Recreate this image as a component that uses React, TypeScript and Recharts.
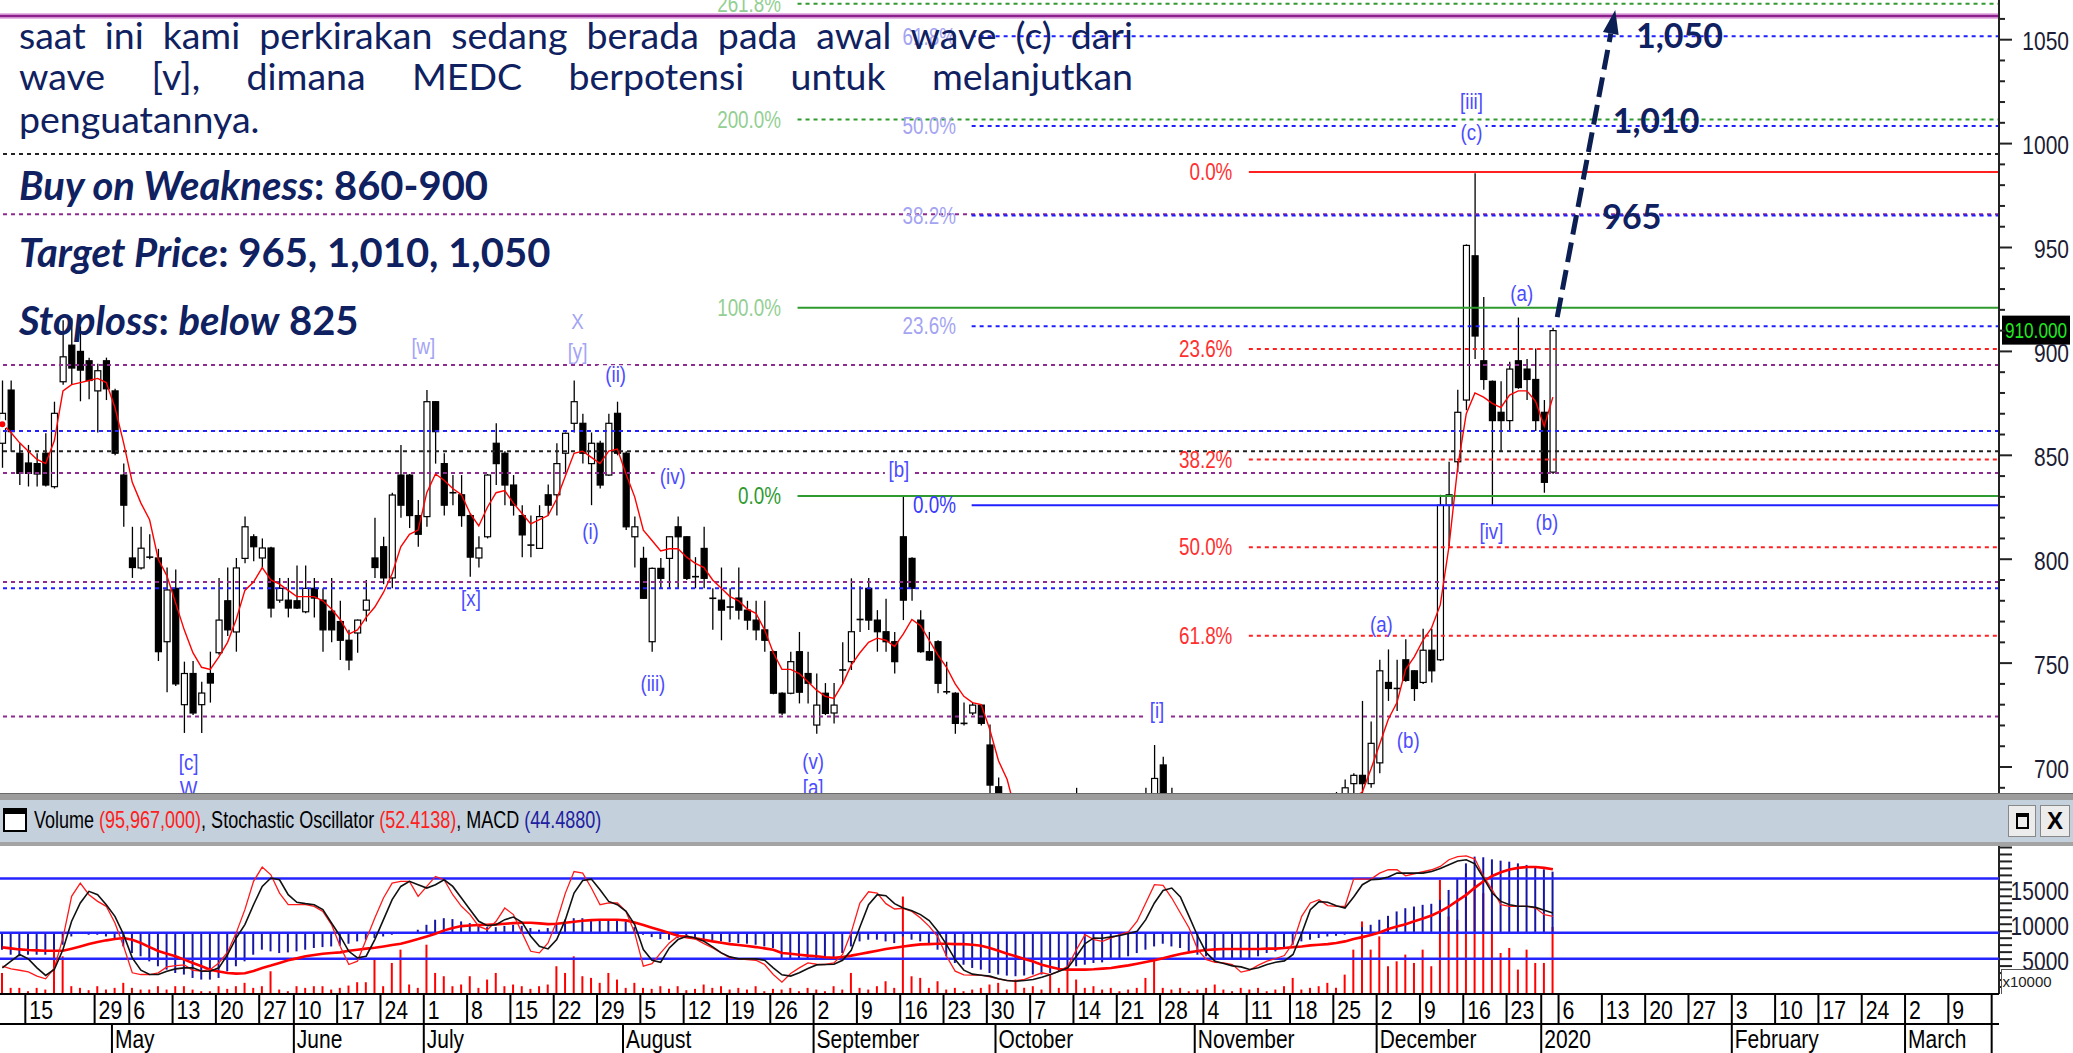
import React from "react";
import { ComposedChart, Bar, Line, XAxis, YAxis, ReferenceLine, ReferenceDot } from "recharts";

const SANS = "'Liberation Sans', Arial, sans-serif";
const NAVY = "#0f2160";

// daily bars, index 0 = first bar at the left edge (Apr 2019), index 179 = last bar
const openP = [
  855.8, 881.4, 851, 846.3, 846, 851, 834.9, 885.4, 903, 900,
  895.5, 881, 895.5, 881, 840.5, 800.6, 795.8, 801, 800.6, 760.3,
  786, 730, 745, 730, 745, 755, 780, 765, 800.4, 810.8,
  800.6, 805.4, 780.3, 780.3, 780, 774.7, 786, 780.3, 775, 770,
  761, 764.5, 775.5, 800.6, 806, 791, 840.5, 840.5, 821, 820.5,
  875.8, 846, 832, 831, 821, 800.6, 810.8, 855.8, 851, 835.7,
  821, 806.8, 805.2, 831, 831, 851, 865.4, 865.4, 846, 855.8,
  840.5, 870.2, 851, 810.8, 800.4, 760.3, 795.6, 800.4, 815.6, 810.8,
  791.6, 805.2, 781.2, 780.3, 777, 781.3, 775.5, 770.7, 766, 755.5,
  735.5, 735.5, 755.5, 745, 720.2, 735.5, 726, 746.7, 750.7, 771,
  786, 770.7, 765.1, 760.3, 810.8, 800.4, 770.7, 755.5, 760.3, 736.2,
  735.5, 721, 726, 729.8, 710.6, 690.5, 672, 660, 645, 650,
  642, 630, 640, 655, 668, 675, 660, 650, 658, 664,
  660, 668, 676, 684, 701, 686, 670, 660, 650, 655,
  648, 640, 645, 642, 646, 652, 650, 656, 662, 666,
  672, 676, 670, 675, 680, 684, 692, 696, 692, 702,
  740.7, 737.8, 751.6, 746.3, 740.7, 756.2, 751.6, 826, 846.9, 876.6,
  946, 895.5, 885.6, 870.7, 866.7, 895.5, 891.5, 886.5, 870.7, 841.9,
];
const highP = [
  886, 886, 855.8, 855, 851, 860.6, 875.8, 915, 916, 912,
  897, 894, 897, 882, 846, 815.6, 815.6, 812, 805, 796,
  795, 750.7, 751, 741, 755.5, 791, 796, 800.6, 820.5, 812,
  810, 806, 791, 791, 797, 797, 791, 786, 791, 780,
  766, 771, 790, 820, 810.8, 832, 855, 841, 828.5, 881.4,
  876, 851, 840.5, 840.5, 822, 811, 841, 865.4, 852, 840.5,
  826, 821, 826, 836, 855.8, 861, 886, 870, 861, 857,
  870, 875.8, 852, 820.5, 806, 796, 800.6, 811, 820.5, 811,
  801, 815.6, 786, 796, 786, 796, 780, 780, 780, 756,
  736, 755.5, 765, 755.5, 745, 740.4, 740.4, 760, 790.8, 787,
  791, 775.5, 781, 765, 830, 801, 775.5, 765, 761, 750.7,
  736, 731, 731, 730, 720.5, 695, 682, 668, 655, 662,
  650, 645, 660, 672, 690, 682, 668, 662, 670, 675,
  672, 680, 690, 710.6, 705, 690, 678, 668, 660, 665,
  655, 650, 655, 650, 658, 662, 660, 668, 672, 678,
  682, 686, 680, 684, 688, 694, 697, 731.8, 721.9, 751.6,
  756.6, 751.6, 761.5, 746.5, 766.5, 766.5, 831, 846.9, 881.6, 951.5,
  985.7, 926.2, 886, 885.6, 895, 916.3, 896.4, 901.4, 876.6, 911.4,
];
const lowP = [
  844, 851.7, 835.7, 835, 835, 835, 834, 884, 884, 876,
  877, 861, 876.6, 850, 815.6, 791, 795, 800, 751, 736,
  739, 716.4, 725, 716.4, 731, 754, 763, 755.5, 798, 799,
  796, 771.9, 779, 772, 776, 774, 772, 755.5, 760, 751.5,
  746.6, 755, 770, 791, 788, 786, 820, 815, 806, 815.6,
  846, 821, 826, 815.6, 791.6, 796, 810, 835.7, 826, 821,
  801, 801, 805, 821, 821, 841, 861, 846, 826, 834,
  840, 850, 814, 796, 781, 755.5, 786, 786, 786, 790,
  786, 786, 766, 761, 771, 771, 766, 761, 755.5, 735,
  725, 735, 730.6, 730.6, 716, 725, 721, 740, 746.7, 765,
  765.9, 755.5, 755.5, 745, 770.7, 780, 755, 751, 735.5, 735,
  716, 720, 725, 720, 680, 660, 655, 640, 630, 640,
  625, 620, 635, 648, 660, 655, 645, 640, 650, 655,
  652, 660, 668, 680, 680, 665, 655, 645, 640, 645,
  635, 630, 638, 632, 640, 645, 642, 650, 655, 660,
  665, 668, 662, 668, 672, 676, 686, 686, 690, 697,
  731.8, 726.9, 741, 731.8, 740, 740.7, 751, 806.2, 841.9, 871.7,
  896.4, 881.6, 826, 851.8, 861.7, 882, 876.6, 861.7, 832, 841,
];
const closeP = [
  870.2, 861.4, 841.3, 841.3, 841, 835.7, 870.2, 897.4, 892, 891,
  886, 890.7, 882, 851, 826, 796, 805.3, 801, 755.5, 785.2,
  740, 745, 726, 735.6, 740.4, 770.7, 766, 795.8, 815.6, 806,
  805.4, 776.5, 786, 776.5, 776.5, 786, 781.3, 766, 766, 761,
  751.5, 770.7, 780.3, 796, 791, 830.9, 826, 821, 812, 875.8,
  861.4, 826, 832, 821, 801, 805.4, 840.5, 846, 835.7, 826,
  811.7, 806.8, 820.5, 826, 846, 860.6, 875.8, 851, 855.8, 835.7,
  865.4, 851, 815.6, 815.6, 781.2, 795.6, 790.8, 810.8, 810.8, 790.8,
  791.6, 790.8, 781.2, 775.5, 777, 775.5, 770.7, 766, 761, 735.5,
  726, 750.7, 736, 740.3, 729.8, 725.8, 729.8, 746.7, 765.1, 771,
  770.7, 765.1, 760.3, 750.7, 780.3, 786, 755.5, 751.5, 740.3, 736.2,
  721, 721, 729.8, 721, 691.3, 670, 660, 645, 650, 642,
  630, 640, 655, 668, 675, 660, 650, 658, 664, 660,
  668, 676, 684, 694.5, 686, 670, 660, 650, 655, 648,
  640, 645, 642, 646, 652, 650, 656, 662, 666, 672,
  676, 670, 675, 680, 684, 690, 696, 692, 711.4, 746.3,
  737.8, 737.8, 741.7, 737.8, 756.2, 746.3, 826, 831, 870.7, 951,
  907.4, 886.5, 866.7, 866.7, 891.5, 882.6, 886.5, 866.7, 837, 910,
];
const maP = [
  865, 861, 856, 852, 848, 846, 857, 881, 884, 885,
  886, 887, 885, 873, 856, 837, 827, 819, 800, 792,
  779, 766, 755, 748, 747, 753, 760, 771, 785, 789,
  796, 790, 788, 785, 782, 782, 782, 780, 776, 771,
  764, 766, 772, 777, 784, 793, 806, 812, 814, 832,
  841, 838, 834, 831, 822, 816, 825, 832, 833, 827,
  822, 817, 819, 821, 829, 840, 851, 852, 849, 846,
  852, 853, 841, 830, 814, 809, 804, 805, 805, 801,
  798, 796, 790, 786, 782, 780, 776, 774, 766, 755,
  747, 747, 745, 741, 737, 734, 733, 740, 749, 755,
  760, 762, 761, 758, 764, 771, 768, 761, 754, 748,
  740, 734, 731, 730, 718, 703, 694, 678, 663, 653,
  645, 641, 643, 647, 654, 660, 662, 662, 661, 658,
  660, 665, 670, 677, 682, 682, 679, 672, 664, 657,
  651, 648, 646, 644, 645, 647, 649, 653, 657, 661,
  666, 669, 672, 675, 677, 680, 685, 688, 699, 711,
  723, 731, 747, 753, 761, 767, 778, 806, 844, 870,
  880, 878, 875, 873, 879, 881, 881, 876, 864, 878,
];
// volume in units of 10,000 shares
const volume = [
  3000, 880, 880, 400, 880, 640, 6360, 5400, 1120, 880,
  550, 1120, 640, 880, 1600, 880, 640, 640, 1120, 640,
  1120, 1120, 640, 400, 400, 1120, 740, 1120, 1600, 880,
  1120, 3260, 640, 400, 1120, 880, 1120, 1120, 640, 880,
  1210, 1690, 1690, 4930, 1120, 4450, 6360, 1360, 880, 7070,
  3020, 2550, 1120, 1360, 2550, 880, 2070, 3020, 1120, 1360,
  1120, 740, 1120, 1360, 3980, 3020, 5400, 2550, 2310, 1600,
  3020, 2070, 880, 1600, 880, 740, 1120, 740, 1120, 550,
  740, 1360, 880, 1120, 640, 880, 640, 1120, 400, 740,
  640, 880, 400, 880, 640, 400, 1120, 640, 3020, 880,
  640, 1120, 1830, 880, 13970, 2540, 2310, 880, 1830, 640,
  880, 400, 640, 880, 1360, 1600, 640, 2070, 880, 1120,
  640, 2780, 880, 3980, 2070, 880, 1120, 640, 880, 400,
  640, 880, 2310, 5170, 880, 640, 880, 400, 640, 880,
  1360, 640, 400, 880, 640, 880, 400, 640, 1120, 2310,
  640, 880, 1120, 1600, 880, 2780, 6360, 10400, 6360, 8260,
  3980, 4690, 5650, 4450, 6360, 3980, 16360, 11120, 10640, 17310,
  16360, 14450, 10640, 5880, 6600, 3500, 6360, 4450, 4450, 9597,
];
const macdHist = [
  -13.1, -17, -18.2, -17, -17, -17, -14.4, -9.3, -2.9, -0.8,
  -1.6, -1.6, -2.9, -5.4, -10.6, -15.7, -18.2, -22.1, -25.9, -28.5,
  -31.1, -32.3, -34.9, -36.2, -36.2, -34.9, -29.8, -25.9, -22.1, -17,
  -13.1, -14.4, -15.7, -15.2, -14.4, -13.1, -11.8, -11.1, -10.6, -10,
  -8.5, -6.7, -5.4, -4.1, -2.9, -1.6, -0.5, 0, 2.3, 6.1,
  10, 11.2, 10.5, 8.7, 7.4, 6.1, 4.3, 4.3, 5.3, 6.1,
  5.3, 3.6, 2.3, 3.6, 6.1, 10, 11.2, 11.2, 10.5, 10,
  10.5, 10.5, 8.7, 4.3, -1.6, -3.4, -4.9, -5.4, -4.1, -2.9,
  -3.4, -4.9, -6, -6.7, -7.4, -8, -8.5, -9.3, -10.6, -11.8,
  -19.5, -20.3, -20.3, -20.8, -20.8, -20.3, -19.5, -15.7, -10.6, -6.7,
  -5.4, -5.4, -6.7, -8, -2.9, -5.4, -6.7, -9.3, -13.1, -18.2,
  -23.4, -24.7, -27.2, -28.5, -31.1, -32.3, -33.1, -33.6, -33.1, -32.3,
  -32.3, -31.1, -29.8, -27.2, -25.9, -24.7, -23.4, -22.9, -20.8, -19.5,
  -18.2, -15.7, -13.1, -10.6, -8.5, -10.6, -11.8, -14.4, -17, -18.2,
  -19.5, -20.3, -20.8, -20.8, -19.5, -18.2, -15.7, -14.4, -11.8, -9.3,
  -6.7, -5.4, -4.1, -2.9, -2.3, -1.6, 0.2, 4.3, 6.1, 10,
  13, 16.4, 18.9, 20.2, 21.5, 22.3, 25.3, 33, 42, 53.5,
  58.7, 58.2, 56.6, 55.6, 54.8, 53.5, 52.3, 51, 48.9, 47.1,
];
const macdSignal = [
  -11.3, -12.1, -12.9, -13.4, -13.6, -13.9, -13.9, -13.9, -12.3, -10.6,
  -8.8, -7.2, -5.9, -4.9, -4.1, -5.4, -8, -11.1, -14.1, -16.2,
  -18.2, -20.8, -23.4, -25.9, -28.5, -30, -31.1, -31.6, -31.3, -29.5,
  -27.2, -25.4, -23.4, -21.3, -19.8, -18.2, -17.2, -16.2, -15.7, -15.2,
  -13.9, -13.1, -12.3, -11.6, -10.6, -9.5, -8.5, -6.7, -4.9, -2.9,
  -0.8, 1.8, 3.6, 5.1, 5.6, 5.9, 6.1, 6.4, 6.9, 7.4,
  7.7, 7.7, 7.2, 6.6, 6.9, 7.7, 8.4, 9.2, 9.7, 10,
  10, 10, 9.5, 7.9, 5.9, 3.8, 1.8, -0.3, -2.3, -3.4,
  -4.4, -5.4, -6.7, -7.7, -8.8, -9.5, -10.3, -11.1, -12.1, -13.1,
  -15.7, -16.2, -17, -17.7, -18.2, -19, -19.3, -18.8, -17.7, -16.4,
  -15.2, -13.9, -12.6, -11.6, -10.6, -9.8, -9, -8.8, -8.5, -8.5,
  -8.8, -8.8, -9.3, -10, -11.8, -13.9, -16.2, -18.2, -20.3, -22.3,
  -24.7, -26.4, -28, -28.5, -28.5, -28.5, -28.2, -27.7, -27.2, -26.2,
  -25.2, -23.9, -22.6, -21.3, -19.8, -18, -16.4, -15.2, -14.1, -13.4,
  -12.9, -12.6, -12.6, -12.6, -12.6, -12.6, -12.3, -12.3, -11.8, -11.1,
  -10.6, -9.8, -9.3, -8.8, -8, -6.7, -4.9, -3.4, -1.8, 0.2,
  2.8, 4.8, 6.6, 8.9, 11, 13.3, 16.4, 20.2, 24.8, 29.2,
  34.8, 39.7, 43.8, 46.6, 48.7, 50, 50.7, 50.7, 50, 48.9,
];
const stochK = [
  14.3, 12.3, 11.3, 10.1, 6.9, 4.9, 13.1, 35.5, 66.7, 76.6,
  67.9, 62.9, 59.2, 46.7, 29.3, 9.4, 8.1, 8.1, 9.4, 13.8,
  14.8, 15.3, 11.3, 10.6, 11.9, 16.8, 24.8, 39.3, 56.7, 77.9,
  88.6, 82.8, 69.1, 60.4, 60.4, 60.4, 59.2, 55.4, 45.5, 29.3,
  15.6, 18.1, 34.3, 50.5, 65.4, 76.6, 77.9, 77.9, 66.7, 74.1,
  81.6, 79.1, 67.9, 59.2, 53, 44.2, 41.7, 48, 57.9, 53,
  39.3, 25.5, 24.3, 31.8, 48, 69.1, 85.3, 84.1, 72.9, 60.4,
  61.7, 61.7, 55.4, 39.3, 14.3, 16.3, 24.3, 31.8, 36.8, 37.3,
  34.8, 31.3, 28, 24.3, 20.6, 19.8, 19.3, 18.8, 15.6, 8.1,
  2.4, 8.9, 13.1, 16.8, 15.8, 15.6, 16.8, 23.1, 39.7, 61.7,
  70.1, 69.1, 61.2, 57.2, 57.7, 55.4, 50.5, 44.2, 36.3, 21.8,
  10.6, 7.9, 7.6, 7.6, 6.4, 4.9, 3.6, 3.4, 4.4, 6.9,
  9.4, 8.1, 10.6, 14.3, 26.8, 38, 34.3, 33, 35.5, 38,
  40, 48, 61.7, 75.4, 74.9, 65.4, 54.2, 43, 26.8, 19.3,
  17.3, 16.8, 15.6, 9.9, 11.4, 15.1, 18.1, 20.1, 22.3, 31.8,
  51.7, 61.7, 64.2, 59.7, 59.2, 59.2, 79.6, 79.6, 79.6, 84.1,
  86.6, 86.6, 82.1, 83.6, 85.1, 86.6, 89.1, 94.1, 96.5, 97,
  94.6, 81.6, 71.6, 60.4, 59.2, 59.2, 59.2, 57.9, 52.9, 51.7,
];
const stochD = [
  13.1, 18.1, 23.1, 19.8, 13.1, 7.4, 11.9, 26.8, 48, 61.7,
  70.4, 67.9, 60.4, 51.7, 38, 20.6, 11.3, 8.1, 8.1, 10.6,
  12.3, 13.1, 13.1, 10.6, 10.6, 13.1, 23.1, 35.5, 45.5, 60.4,
  74.1, 80.4, 79.1, 67.9, 62.2, 61.2, 60.4, 56.7, 46.7, 36.8,
  25.5, 20.6, 21.8, 34.3, 49.2, 64.2, 74.1, 77.9, 75.4, 72.9,
  75.4, 79.1, 74.1, 65.4, 56.7, 48, 44.7, 45.5, 49.2, 51.2,
  47.2, 36.8, 29.3, 27.3, 34.3, 49.2, 69.1, 78.6, 79.6, 71.6,
  62.9, 60.4, 55.4, 45.5, 26.8, 18.8, 17.3, 28, 34.3, 36.8,
  35.5, 33, 28.8, 24.3, 21.3, 19.8, 19.8, 19.8, 18.8, 13.1,
  7.9, 6.9, 9.4, 12.6, 15.3, 15.6, 15.8, 18.8, 26.3, 43.7,
  60.4, 67.9, 67.2, 61.2, 57.9, 55.9, 53, 48.5, 40.5, 30.5,
  19.3, 11.4, 8.4, 7.6, 6.9, 4.9, 3.6, 3.1, 3.6, 4.4,
  6.1, 8.1, 10.6, 13.1, 21.8, 31.3, 35.5, 35.3, 36.3, 37.3,
  38.8, 40.5, 49.2, 61.7, 71.1, 72.9, 66.2, 51.7, 36.8, 24.3,
  18.1, 16.3, 14.6, 13.8, 11.9, 13.1, 15.6, 17.3, 18.3, 23.1,
  38.8, 56.7, 62.7, 62.2, 59.7, 57.9, 66.2, 75.4, 79.1, 79.6,
  81.1, 84.1, 84.1, 84.1, 84.1, 85.3, 87.6, 90.3, 93.1, 94.1,
  91.1, 80.4, 69.1, 62.9, 60.4, 59.2, 59.2, 58.4, 56.2, 54.2,
];

const SLOTS = 231; // trading days incl. empty future days up to mid-March 2020

const weekTicks = [3, 11, 15, 20, 25, 30, 34, 39, 44, 49, 54, 59, 64, 69, 74, 79, 84, 89, 94, 99, 104, 109, 114, 119, 124, 129, 134, 139, 144, 149, 154, 159, 164, 169, 174, 178, 180, 185, 190, 195, 200, 205, 210, 215, 220, 225, 230];
const weekLabels = ["15", "29", "6", "13", "20", "27", "10", "17", "24", "1", "8", "15", "22", "29", "5", "12", "19", "26", "2", "9", "16", "23", "30", "7", "14", "21", "28", "4", "11", "18", "25", "2", "9", "16", "23", "", "6", "13", "20", "27", "3", "10", "17", "24", "2", "9", ""];
const monthTicks = [13, 34, 49, 72, 94, 115, 138, 159, 178, 200, 220, 230];
const monthLabels = ["May", "June", "July", "August", "September", "October", "November", "December", "2020", "February", "March", ""];

const priceTicks = [690, 700, 710, 720, 730, 740, 750, 760, 770, 780, 790, 800, 810, 820, 830, 840, 850, 860, 870, 880, 890, 900, 910, 920, 930, 940, 950, 960, 970, 980, 990, 1000, 1010, 1020, 1030, 1040, 1050, 1060];
const priceLabels = [700, 750, 800, 850, 900, 950, 1000, 1050];
const volTicks = [1000, 2000, 3000, 4000, 5000, 6000, 7000, 8000, 9000, 10000, 11000, 12000, 13000, 14000, 15000, 16000, 17000, 18000, 19000, 20000, 21000];
const volLabels = [5000, 10000, 15000];

// horizontal support / resistance lines across the whole pane
const hLevels = [995, 966, 893.5, 861.7, 852, 841.5, 789, 786, 724.3];
const hColors = ["#222", "#8e2b8e", "#8e2b8e", "#2020ff", "#222", "#8e2b8e", "#8e2b8e", "#2020ff", "#8e2b8e"];

// fibonacci sets
const greenPct = ["261.8%", "200.0%", "100.0%", "0.0%"];
const greenVal = [1067.3, 1011.6, 921, 830.4];
const bluePct = ["61.8%", "50.0%", "38.2%", "23.6%", "0.0%"];
const blueVal = [1051.6, 1008.5, 965.4, 912.1, 826];
const redPct = ["0.0%", "23.6%", "38.2%", "50.0%", "61.8%"];
const redVal = [986.3, 901.1, 848, 805.8, 763.2];

// elliott wave labels
const waveText = ["[c]", "W", "[w]", "X", "[y]", "(ii)", "[x]", "(i)", "(iv)", "(iii)", "[b]", "(v)", "[a]", "[i]", "(a)", "(b)", "[iii]", "(c)", "(a)", "[iv]", "(b)"];
const waveK = [21.5, 21.5, 48.6, 66.4, 66.4, 70.8, 54.1, 67.9, 77.4, 75.1, 103.5, 93.6, 93.6, 133.3, 159.2, 162.3, 169.6, 169.6, 175.4, 171.9, 178.3];
const waveV = [702, 689.5, 902.6, 914.5, 899.9, 889, 780.9, 813.5, 840, 740.2, 843.4, 702.5, 690, 727, 768.8, 713, 1020.5, 1005.6, 927.9, 813.4, 817.9];

const targetText = ["1,050", "1,010", "965"];
const targetK = [188.6, 185.9, 184.7];
const targetV = [1052.7, 1011.8, 965.6];

const rows = Array.from({ length: SLOTS }, (_, i) =>
  i < closeP.length
    ? {
        i,
        range: [lowP[i], highP[i]],
        o: openP[i],
        h: highP[i],
        l: lowP[i],
        c: closeP[i],
        ma: maP[i],
        vol: volume[i],
        macd: macdHist[i],
        sig: macdSignal[i],
        sk: stochK[i],
        sd: stochD[i],
      }
    : { i }
);

const AXIS_X = 1999;

// condensed text (the source uses a narrow font)
const NText = (p: { x: number; y: number; anchor?: "start" | "middle" | "end"; size: number; color: string; sx?: number; weight?: number; children: React.ReactNode }) => (
  <text
    transform={`translate(${p.x},${p.y}) scale(${p.sx ?? 0.85},1)`}
    textAnchor={p.anchor ?? "start"}
    dominantBaseline="central"
    fontSize={p.size}
    fontFamily={SANS}
    fontWeight={p.weight ?? 400}
    fill={p.color}
  >
    {p.children}
  </text>
);

const Candle = (props: any) => {
  const { x, y, width, height, payload } = props;
  if (!payload || payload.h == null) return null;
  const top = Math.min(y, y + height);
  const bot = Math.max(y, y + height);
  const span = payload.h - payload.l;
  const ppu = span > 0 ? (bot - top) / span : 0;
  const yO = top + (payload.h - payload.o) * ppu;
  const yC = top + (payload.h - payload.c) * ppu;
  const cx = x + width / 2;
  const up = payload.c > payload.o;
  return (
    <g>
      <line x1={cx} x2={cx} y1={top} y2={bot} stroke="#000" strokeWidth={1.3} />
      {payload.c === payload.o ? (
        <line x1={cx - 3.5} x2={cx + 3.5} y1={yO} y2={yO} stroke="#000" strokeWidth={1.6} />
      ) : (
        <rect x={cx - 3} y={Math.min(yO, yC)} width={6} height={Math.max(Math.abs(yC - yO), 1)} fill={up ? "#fff" : "#000"} stroke="#000" strokeWidth={1.2} />
      )}
    </g>
  );
};

const axisTick = (labels: number[]) => (props: any) => {
  const { y, payload } = props;
  const major = labels.includes(payload.value) || payload.value % 50 === 0;
  const show = labels.includes(payload.value);
  return (
    <g>
      <line x1={AXIS_X} x2={AXIS_X + (major ? 13 : 6)} y1={y} y2={y} stroke="#222" strokeWidth={2} />
      {show && (
        <NText x={2069} y={y + 2} anchor="end" size={25} color="#1c1c34" sx={0.84}>
          {payload.value}
        </NText>
      )}
    </g>
  );
};
const PriceTick = axisTick(priceLabels);
const VolTick = axisTick(volLabels);

const weekLabelAt: Record<number, string> = {};
weekTicks.forEach((k, j) => (weekLabelAt[k] = weekLabels[j]));
const monthLabelAt: Record<number, string> = {};
monthTicks.forEach((k, j) => (monthLabelAt[k] = monthLabels[j]));

const DayTick = (props: any) => {
  const x = props.x - 3;
  return (
    <g>
      <line x1={x} x2={x} y1={148} y2={178} stroke="#000" strokeWidth={2} />
      <NText x={x + 4} y={164} size={25} color="#000" sx={0.85}>
        {weekLabelAt[props.payload.value]}
      </NText>
    </g>
  );
};

const MonthTick = (props: any) => {
  const x = props.x - 3;
  return (
    <g>
      <line x1={x} x2={x} y1={178} y2={207} stroke="#000" strokeWidth={2} />
      <NText x={x + 3} y={193} size={25} color="#000" sx={0.84}>
        {monthLabelAt[props.payload.value]}
      </NText>
    </g>
  );
};

const labelShape = (text: string, color: string, anchor: "start" | "middle" | "end") => (p: any) => (
  <NText x={p.cx} y={p.cy} anchor={anchor} size={23} color={color} sx={0.82}>
    {text}
  </NText>
);

const targetShape = (text: string) => (p: any) => (
  <text x={p.cx} y={p.cy} dominantBaseline="central" fill={NAVY} fontSize={34} fontFamily="Lato, 'Open Sans', sans-serif" fontWeight={700}>
    {text}
  </text>
);

const waveShape = (text: string, color: string) => (p: any) => {
  const w = text.length * 8 + 4;
  return (
    <g>
      <rect x={p.cx - w / 2} y={p.cy - 9} width={w} height={18} fill="#fff" />
      <NText x={p.cx} y={p.cy} anchor="middle" size={22} color={color} sx={0.85}>
        {text}
      </NText>
    </g>
  );
};

const PriceBox = (p: any) => (
  <g>
    <rect x={p.cx + 3} y={p.cy - 15} width={68} height={29} fill="#000" />
    <NText x={p.cx + 37} y={p.cy} anchor="middle" size={22} color="#22e822" sx={0.78}>
      910.000
    </NText>
  </g>
);

const Arrow = (p: any) => {
  const { x1, y1, x2, y2 } = p;
  const ang = Math.atan2(y2 - y1, x2 - x1);
  const L = 24;
  const bx = x2 - L * Math.cos(ang);
  const by = y2 - L * Math.sin(ang);
  const px = -Math.sin(ang) * 8;
  const py = Math.cos(ang) * 8;
  return (
    <g>
      <line x1={x1} y1={y1} x2={bx} y2={by} stroke="#0b1f52" strokeWidth={5} strokeDasharray="20 8" />
      <polygon points={`${x2},${y2} ${bx + px},${by + py} ${bx - px},${by - py}`} fill="#0b1f52" />
    </g>
  );
};

const fibSet = (pct: string[], val: number[], from: number, labelAt: number, solid: boolean[], colors: string[], lineColor: string, key: string) => (
  <>
    {val.map((v, j) => (
      <ReferenceLine
        key={`${key}l${j}`}
        xAxisId="num"
        segment={[{ x: from, y: v }, { x: 230.5, y: v }]}
        stroke={lineColor}
        strokeWidth={2}
        strokeDasharray={solid[j] ? undefined : "4 4"}
        ifOverflow="visible"
      />
    ))}
    {val.map((v, j) => (
      <ReferenceDot key={`${key}t${j}`} xAxisId="num" x={labelAt} y={v} r={0} ifOverflow="visible" shape={labelShape(pct[j], colors[j], "end")} />
    ))}
  </>
);

function PricePane() {
  return (
    <ComposedChart width={2073} height={793} data={rows} margin={{ top: 0, right: 0, bottom: 0, left: -2 }}>
      <XAxis dataKey="i" type="category" hide />
      <XAxis xAxisId="num" dataKey="i" type="number" domain={[-0.5, 230.5]} hide allowDataOverflow />
      <YAxis
        orientation="right"
        width={74}
        domain={[687.5, 1069.1]}
        ticks={priceTicks}
        interval={0}
        tick={PriceTick}
        tickLine={false}
        axisLine={{ stroke: "#222", strokeWidth: 2 }}
        allowDataOverflow
      />
      <ReferenceLine y={1061.4} stroke="#e6b6e6" strokeWidth={6} />
      <ReferenceLine y={1061.4} stroke="#8b1f8b" strokeWidth={2.5} />
      {hLevels.map((v, j) => (
        <ReferenceLine key={`h${j}`} y={v} stroke={hColors[j]} strokeWidth={2} strokeDasharray="4 4" />
      ))}
      {fibSet(greenPct, greenVal, 91.8, 89.9, [false, false, true, true], ["#93cf93", "#93cf93", "#93cf93", "#2f9a2f"], "#2f9a2f", "g")}
      {fibSet(bluePct, blueVal, 111.9, 110.1, [false, false, false, false, true], ["#a4a4f2", "#a4a4f2", "#a4a4f2", "#a4a4f2", "#3a3aff"], "#2020ff", "b")}
      {fibSet(redPct, redVal, 143.9, 142, [true, false, false, false, false], ["#ff3030", "#ff3030", "#ff3030", "#ff3030", "#ff3030"], "#ff2020", "r")}
      <Bar dataKey="range" shape={Candle} isAnimationActive={false} barSize={7} />
      <Line dataKey="ma" stroke="#ff0000" strokeWidth={1.4} dot={false} isAnimationActive={false} />
      {waveText.map((t, j) => (
        <ReferenceDot
          key={`w${j}`}
          xAxisId="num"
          x={waveK[j]}
          y={waveV[j]}
          r={0}
          ifOverflow="visible"
          shape={waveShape(t, j >= 2 && j <= 4 ? "#a3a3f5" : "#4b4bff")}
        />
      ))}
      <ReferenceLine xAxisId="num" segment={[{ x: 179.5, y: 916.5 }, { x: 186.2, y: 1064.3 }]} shape={Arrow} ifOverflow="visible" />
      {targetText.map((t, j) => (
        <ReferenceDot key={`t${j}`} xAxisId="num" x={targetK[j]} y={targetV[j]} r={0} ifOverflow="visible" shape={targetShape(t)} />
      ))}
      <ReferenceDot xAxisId="num" x={230.5} y={910} r={0} ifOverflow="visible" shape={PriceBox} />
    </ComposedChart>
  );
}

function VolumePane() {
  return (
    <ComposedChart width={2073} height={207} data={rows} margin={{ top: 0, right: 0, bottom: 0, left: -2 }}>
      <XAxis dataKey="i" type="category" height={30} ticks={weekTicks} interval={0} tick={DayTick} tickLine={false} axisLine={false} />
      <XAxis xAxisId="m" dataKey="i" type="category" height={29} ticks={monthTicks} interval={0} tick={MonthTick} tickLine={false} axisLine={false} />
      <YAxis
        orientation="right"
        width={74}
        domain={[0, 21214]}
        ticks={volTicks}
        interval={0}
        tick={VolTick}
        tickLine={false}
        axisLine={{ stroke: "#222", strokeWidth: 2 }}
        allowDataOverflow
      />
      <Bar dataKey="vol" fill="#ff0000" barSize={2} isAnimationActive={false} />
    </ComposedChart>
  );
}

function OscillatorPane() {
  return (
    <ComposedChart width={2073} height={207} data={rows} margin={{ top: 0, right: 74, bottom: 59, left: -2 }}>
      <XAxis dataKey="i" type="category" hide />
      <YAxis yAxisId="macd" hide domain={[-47.3, 66.9]} allowDataOverflow />
      <YAxis yAxisId="st" hide domain={[-6.5, 104.4]} allowDataOverflow />
      <ReferenceLine yAxisId="st" y={80} stroke="#2424ff" strokeWidth={2.5} />
      <ReferenceLine yAxisId="st" y={20} stroke="#2424ff" strokeWidth={2.5} />
      <ReferenceLine yAxisId="macd" y={0} stroke="#2424ff" strokeWidth={2.5} />
      <Bar yAxisId="macd" dataKey="macd" fill="#1616a6" barSize={2} isAnimationActive={false} />
      <Line yAxisId="macd" dataKey="sig" stroke="#ff0000" strokeWidth={2.6} dot={false} isAnimationActive={false} />
      <Line yAxisId="st" dataKey="sk" stroke="#ff1a1a" strokeWidth={1.3} dot={false} isAnimationActive={false} />
      <Line yAxisId="st" dataKey="sd" stroke="#111" strokeWidth={1.6} dot={false} isAnimationActive={false} />
    </ComposedChart>
  );
}

const abs = (left: number, top: number, extra: React.CSSProperties = {}): React.CSSProperties => ({ position: "absolute", left, top, ...extra });

const line1 = ["saat", "ini", "kami", "perkirakan", "sedang", "berada", "pada", "awal", "wave", "(c)", "dari"];
const line2 = ["wave", "[v],", "dimana", "MEDC", "berpotensi", "untuk", "melanjutkan"];

export default function App() {
  const para: React.CSSProperties = { fontFamily: "Lato, 'Open Sans', sans-serif", fontSize: 37.5, lineHeight: "45px", color: NAVY, whiteSpace: "nowrap" };
  const bold: React.CSSProperties = { ...para, fontSize: 40, lineHeight: "48px", fontWeight: 700 };
  return (
    <div style={{ position: "absolute", left: 0, top: 0, width: 2073, height: 1053, background: "#fff", overflow: "hidden" }}>
      <div style={abs(0, 0)}>
        <PricePane />
      </div>
      <div style={abs(0, 846)}>
        <VolumePane />
      </div>
      <div style={abs(0, 846)}>
        <OscillatorPane />
      </div>
      {/* date axis row lines */}
      <div style={abs(0, 993, { width: 1999, height: 2, background: "#000" })} />
      <div style={abs(0, 1023, { width: 1999, height: 2, background: "#000" })} />
      {/* pane separator + toolbar */}
      <div style={abs(0, 793, { width: 2073, height: 7, background: "#9c9c9c", borderTop: "1px solid #6a6a6a" })} />
      <div style={abs(0, 800, { width: 2073, height: 42, background: "#c4d0dc" })} />
      <div style={abs(0, 842, { width: 2073, height: 4, background: "#a4a4a4" })} />
      <div style={abs(3, 808, { width: 24, height: 24, background: "#fff", border: "2px solid #000", borderTop: "6px solid #000", boxSizing: "border-box" })} />
      <div
        style={abs(34, 806, {
          fontFamily: SANS,
          fontSize: 24,
          lineHeight: "28px",
          color: "#000",
          whiteSpace: "nowrap",
          transform: "scaleX(0.75)",
          transformOrigin: "left top",
        })}
      >
        Volume <span style={{ color: "#ff2020" }}>(95,967,000)</span>, Stochastic Oscillator <span style={{ color: "#ff2020" }}>(52.4138)</span>, MACD{" "}
        <span style={{ color: "#2020a0" }}>(44.4880)</span>
      </div>
      <div style={abs(2008, 805, { width: 28, height: 32, background: "#ececec", border: "1px solid #888", boxSizing: "border-box" })}>
        <div style={abs(7, 7, { width: 13, height: 16, border: "2px solid #000", borderTop: "4px solid #000", boxSizing: "border-box" })} />
      </div>
      <div
        style={abs(2040, 805, {
          width: 30,
          height: 32,
          background: "#ececec",
          border: "1px solid #888",
          boxSizing: "border-box",
          fontFamily: SANS,
          fontSize: 24,
          fontWeight: 700,
          textAlign: "center",
          lineHeight: "30px",
        })}
      >
        X
      </div>
      <div
        style={abs(2001, 969, {
          width: 50,
          height: 24,
          border: "1px solid #555",
          borderRight: "none",
          borderBottom: "none",
          background: "#fff",
          fontFamily: SANS,
          fontSize: 15,
          lineHeight: "24px",
          textAlign: "center",
          color: "#222",
        })}
      >
        x10000
      </div>
      {/* commentary text */}
      <div style={abs(19, 12, { ...para, width: 1114, display: "flex", justifyContent: "space-between" })}>
        {line1.map((w, j) => (
          <span key={j}>{w}</span>
        ))}
      </div>
      <div style={abs(19, 53, { ...para, width: 1114, display: "flex", justifyContent: "space-between" })}>
        {line2.map((w, j) => (
          <span key={j}>{w}</span>
        ))}
      </div>
      <div style={abs(19, 96, para)}>penguatannya.</div>
      <div style={abs(19, 161, bold)}>
        <i>Buy on Weakness</i>: 860-900
      </div>
      <div style={abs(19, 228, bold)}>
        <i>Target Price</i>: 965, 1,010, 1,050
      </div>
      <div style={abs(19, 296, bold)}>
        <i>Stoploss</i>: <i>below</i> 825
      </div>
    </div>
  );
}
